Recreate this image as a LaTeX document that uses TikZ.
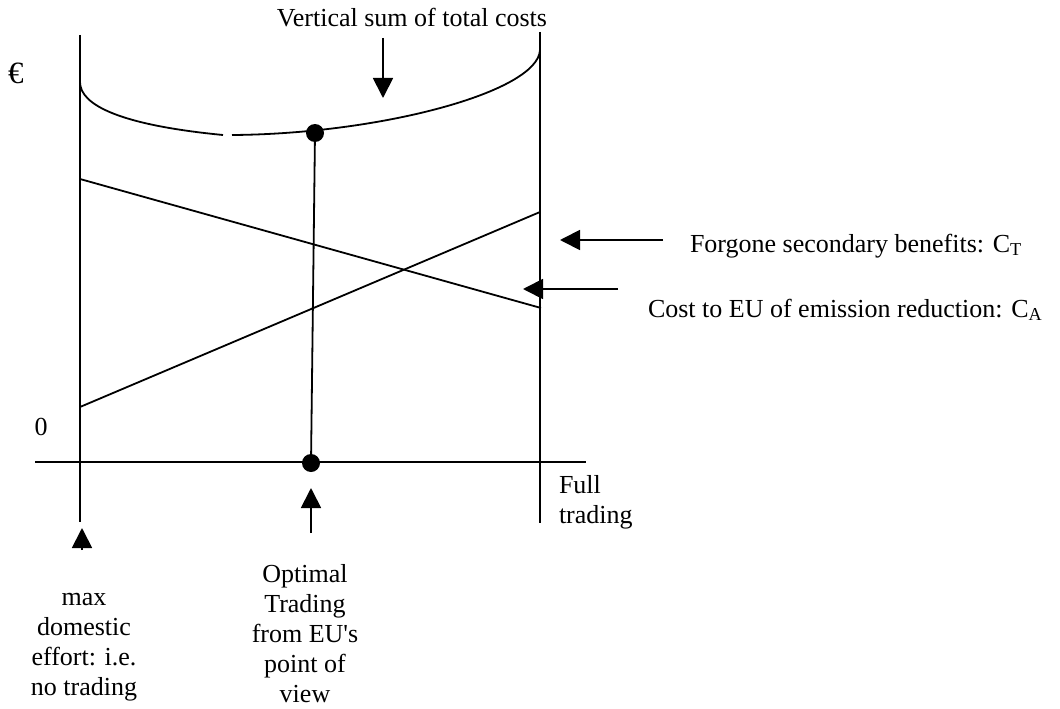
\documentclass[tikz,border=0pt]{standalone}
\usepackage{fontspec}
\newfontfamily\plainfont{Liberation Serif}
\setmainfont{Liberation Serif}
\usetikzlibrary{arrows.meta}
\begin{document}
\begin{tikzpicture}[x=1pt,y=-1pt,
  every node/.style={inner sep=0pt,outer sep=0pt,font=\plainfont\fontsize{26}{30}\selectfont},
  ln/.style={line width=1.8pt,line cap=butt},
  pointer/.style={line width=1.8pt,-{Triangle[length=20pt,width=20pt]}},
  bigdot/.style={circle,fill=black,minimum size=18pt,inner sep=0pt}]
\useasboundingbox (0,0) rectangle (1060,709);
% axes / frame lines
\coordinate (Ltop) at (80,35);
\coordinate (Lbot) at (80,522);
\coordinate (Rtop) at (540,32);
\coordinate (Rbot) at (540,523);
\coordinate (Xl) at (35,462);
\coordinate (Xr) at (586,462);
\draw[ln] (Ltop) -- (Lbot);
\draw[ln] (Rtop) -- (Rbot);
\draw[ln] (Xl) -- (Xr);
% cost lines
\coordinate (CAl) at (80,179);
\coordinate (CAr) at (541,308);
\coordinate (CTl) at (80,407);
\coordinate (CTr) at (540,212);
\draw[ln] (CAl) -- (CAr);
\draw[ln] (CTl) -- (CTr);
% total cost curve (two pieces with small gap)
\draw[ln] (80,82) .. controls (80,105) and (120,125) .. (223,135);
\draw[ln] (232,135) .. controls (380,134) and (538,92) .. (540,50);
% optimum dots and vertical line
\node[bigdot] (top) at (315,133) {};
\node[bigdot] (bot) at (311,463) {};
\draw[ln] (top.center) -- (bot.center);
% labels
\node[anchor=base,font=\plainfont\fontsize{31}{34}\selectfont] (euro) at (16,83) {€};
\node[anchor=base] (zero) at (41,435) {0};
\node[anchor=base] (vsum) at (412,27) {Vertical sum of total costs};
\node[anchor=base west] (ctl) at (690,252) {Forgone secondary benefits: C\textsubscript{T}};
\node[anchor=base west] (cal) at (648,317) {Cost to EU of emission reduction: C\textsubscript{A}};
\node[anchor=north west,align=left] (full) at (559,472) {\strut Full\\trading};
\node[anchor=north,align=center] (maxd) at (84,584) {\strut max\\domestic\\effort: i.e.\\no trading};
\node[anchor=north,align=center] (opt) at (305,561) {\strut Optimal\\Trading\\from EU's\\point of\\view};
% pointer arrows
\coordinate (vs0) at (383,38);
\coordinate (vs1) at (383,98);
\draw[pointer] (vs0) -- (vs1);
\coordinate (ct0) at (663,240);
\coordinate (ct1) at (560,240);
\draw[pointer] (ct0) -- (ct1);
\coordinate (ca0) at (618,289);
\coordinate (ca1) at (523,289);
\draw[pointer] (ca0) -- (ca1);
\coordinate (mx0) at (82,550);
\coordinate (mx1) at (82,528);
\draw[pointer] (mx0) -- (mx1);
\coordinate (op0) at (311,533);
\coordinate (op1) at (311,488);
\draw[pointer] (op0) -- (op1);
\end{tikzpicture}
\end{document}
